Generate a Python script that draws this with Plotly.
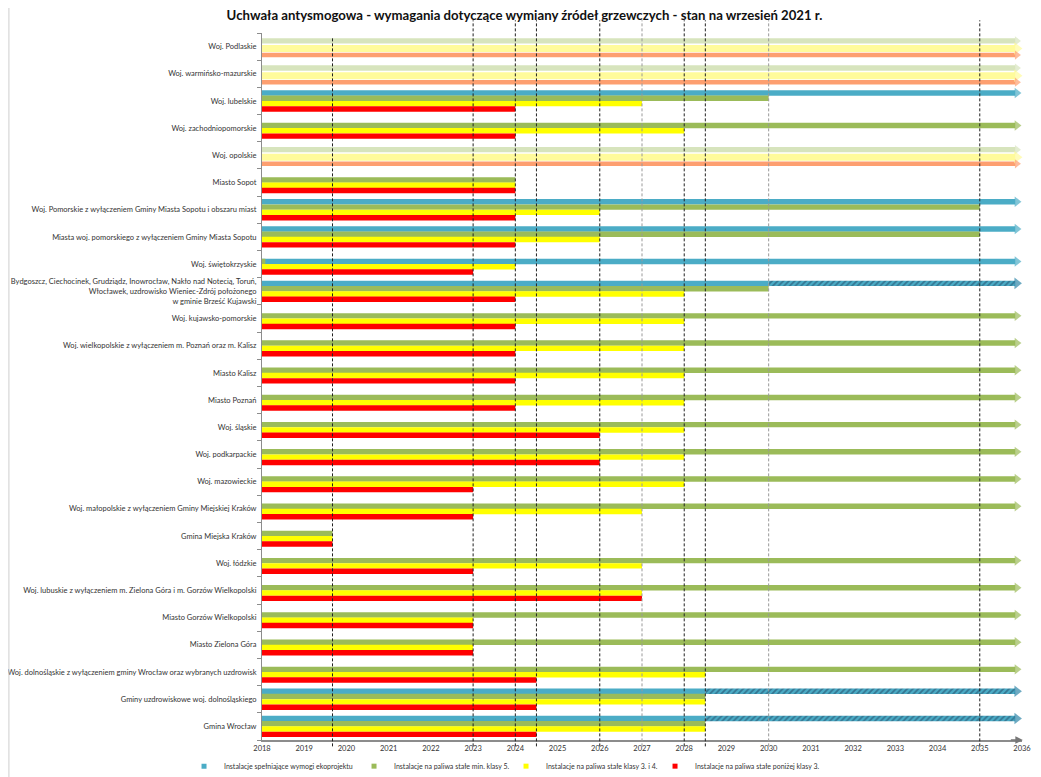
import plotly.graph_objects as go

# ---------------- data ----------------
labels = [
    "Woj. Podlaskie",
    "Woj. warmińsko-mazurskie",
    "Woj. lubelskie",
    "Woj. zachodniopomorskie",
    "Woj. opolskie",
    "Miasto Sopot",
    "Woj. Pomorskie z wyłączeniem Gminy Miasta Sopotu i obszaru miast",
    "Miasta woj. pomorskiego z wyłączeniem Gminy Miasta Sopotu",
    "Woj. świętokrzyskie",
    "Bydgoszcz, Ciechocinek, Grudziądz, Inowrocław, Nakło nad Notecią, Toruń,<br>Włocławek, uzdrowisko Wieniec-Zdrój położonego<br>w gminie Brześć Kujawski",
    "Woj. kujawsko-pomorskie",
    "Woj. wielkopolskie z wyłączeniem m. Poznań oraz m. Kalisz",
    "Miasto Kalisz",
    "Miasto Poznań",
    "Woj. śląskie",
    "Woj. podkarpackie",
    "Woj. mazowieckie",
    "Woj. małopolskie z wyłączeniem Gminy Miejskiej Kraków",
    "Gmina Miejska Kraków",
    "Woj. łódzkie",
    "Woj. lubuskie z wyłączeniem m. Zielona Góra i m. Gorzów Wielkopolski",
    "Miasto Gorzów Wielkopolski",
    "Miasto Zielona Góra",
    "Woj. dolnośląskie z wyłączeniem gminy Wrocław oraz wybranych uzdrowisk",
    "Gminy uzdrowiskowe woj. dolnośląskiego",
    "Gmina Wrocław",
]

N = None
# end year of each requirement bar (bars start in 2018); 2036 = "no end" (arrow)
blue_end   = [N, N, 2036, N, N, N, 2036, 2036, N, 2030, N, N, N, N, N, N, N, N, N, N, N, N, N, N, 2028.5, 2028.5]
blue_alt_end = [N, N, N, N, N, N, N, N, 2036, N, N, N, N, N, N, N, N, N, N, N, N, N, N, N, N, N]
green_end  = [N, N, 2030, 2036, N, 2024, 2035, 2035, 2018.08, 2030, 2036, 2036, 2036, 2036, 2036, 2036, 2036, 2036, 2019.67, 2036, 2036, 2036, 2036, 2036, 2028.5, 2028.5]
yellow_end = [N, N, 2027, 2028, N, 2024, 2026, 2026, 2024, 2028, 2028, 2028, 2028, 2028, 2028, 2028, 2028, 2027, 2019.67, 2027, 2027, 2023, 2023, 2028.5, 2028.5, 2028.5]
red_end    = [N, N, 2024, 2024, N, 2024, 2024, 2024, 2023, 2024, 2024, 2024, 2024, 2024, 2026, 2026, 2023, 2023, 2019.67, 2023, 2027, 2023, 2023, 2024.5, 2024.5, 2024.5]
hatch_start = [N, N, N, N, N, N, N, N, N, 2030, N, N, N, N, N, N, N, N, N, N, N, N, N, N, 2028.5, 2028.5]
hatch_end   = [N, N, N, N, N, N, N, N, N, 2036, N, N, N, N, N, N, N, N, N, N, N, N, N, N, 2036, 2036]
pale_end    = [2036, 2036, N, N, 2036, N, N, N, N, N, N, N, N, N, N, N, N, N, N, N, N, N, N, N, N, N]

deadline_years = [2019.67, 2023, 2024, 2024.5, 2026, 2027, 2028, 2028.5, 2030, 2035]
deadline_grey = [2027, 2030]
years = list(range(2018, 2037))

legend_names = [
    "Instalacje spełniające wymogi ekoprojektu",
    "Instalacje na paliwa stałe min. klasy 5.",
    "Instalacje na paliwa stałe klasy 3. i 4.",
    "Instalacje na paliwa stałe poniżej klasy 3.",
]

# ---------------- styling ----------------
YEAR0, AXIS_END = 2018, 2036
C_BLUE, C_GREEN, C_YELLOW, C_RED = "#4bacc6", "#9bbb59", "#ffff00", "#ff0000"
C_PGREEN, C_PYELLOW, C_PORANGE = "#d7e4bd", "#fffb9b", "#fd9f70"
FONT = "Lato"
SLOT = [-0.2925, -0.0975, 0.0975, 0.2925]
BAR_H = 0.2
HEAD_LEN = 0.16     # years covered by arrow head
HEAD_POS = 0.12
LEGEND_WIDTHS = [125, 107, 104, 135]

fig = go.Figure()
arrows = {"x": [], "y": [], "c": [], "s": []}


def add_bars(ends, offset, height, color, starts=None, pattern=None, head_color=None, head_size=9):
    xs, ys, bs = [], [], []
    for r, e in enumerate(ends):
        if e is None:
            continue
        s = YEAR0 if starts is None else starts[r]
        end = e - HEAD_LEN if e >= AXIS_END else e
        xs.append(end - s)
        bs.append(s)
        ys.append(r + offset)
        if e >= AXIS_END:
            arrows["x"].append(AXIS_END - HEAD_POS)
            arrows["y"].append(r + offset)
            arrows["c"].append(head_color or color)
            arrows["s"].append(head_size)
    marker = dict(color=color, line=dict(width=0))
    if pattern:
        marker["pattern"] = pattern
    fig.add_trace(go.Bar(x=xs, y=ys, base=bs, orientation="h", width=height,
                         marker=marker, showlegend=False, hoverinfo="skip"))


# pale (drawn shapes) rows
add_bars(pale_end, -0.21, 0.20, C_PGREEN, head_size=8)
add_bars(pale_end, 0.07, 0.26, C_PYELLOW, head_size=11)
add_bars(pale_end, 0.31, 0.17, C_PORANGE, head_size=8)

# main requirement bars
add_bars(blue_end, SLOT[0], BAR_H, C_BLUE)
add_bars(blue_alt_end, SLOT[1], BAR_H, C_BLUE)
add_bars(hatch_end, SLOT[0], BAR_H, C_BLUE, starts=hatch_start,
         pattern=dict(shape="/", fgcolor="#1d3d5c", bgcolor=C_BLUE, size=4, solidity=0.45),
         head_color="#2f86a8", head_size=10)
add_bars(green_end, SLOT[1], BAR_H, C_GREEN)
add_bars(yellow_end, SLOT[2], BAR_H, C_YELLOW)
add_bars(red_end, SLOT[3], BAR_H, C_RED)

# arrow heads
fig.add_trace(go.Scatter(x=arrows["x"], y=arrows["y"], mode="markers",
                         marker=dict(symbol="triangle-right", size=arrows["s"], color=arrows["c"],
                                     line=dict(width=0)),
                         cliponaxis=False, showlegend=False, hoverinfo="skip"))

# legend entries
for name, col, lw in zip(legend_names, [C_BLUE, C_GREEN, C_YELLOW, C_RED], LEGEND_WIDTHS):
    fig.add_trace(go.Scatter(x=[None], y=[None], mode="markers", name=name, legendwidth=lw,
                             marker=dict(symbol="square", size=5, color=col)))

# deadline lines
shapes = []
for yv in deadline_years:
    shapes.append(dict(type="line", xref="x", yref="paper", x0=yv, x1=yv,
                       y0=-0.009, y1=1.018 if yv > 2020 else 0.995,
                       line=dict(color="#999999" if yv in deadline_grey else "#222222",
                                 width=1, dash="3px,2px"), layer="above"))
# spreadsheet edge line at far left
shapes.append(dict(type="line", xref="paper", yref="paper", x0=-0.333, x1=-0.333,
                   y0=-0.06, y1=1.04, line=dict(color="#cfcfcf", width=1)))

# the page body adds an 8px offset, so the figure is 8px smaller than the window
fig.update_layout(
    width=1033, height=769,
    margin=dict(l=254, r=19, t=25, b=37, autoexpand=False),
    paper_bgcolor="white", plot_bgcolor="white",
    barmode="overlay",
    font=dict(family=FONT, size=8, color="#333333"),
    title=dict(text="<b>Uchwała antysmogowa - wymagania dotyczące wymiany źródeł grzewczych - stan na wrzesień 2021 r.</b>",
               x=0.5, xanchor="center", y=0.9902, yanchor="middle",
               font=dict(family=FONT, size=13.2, color="#111111")),
    xaxis=dict(range=[YEAR0, AXIS_END], tickvals=years, ticktext=[str(y) for y in years],
               showgrid=False, zeroline=False, showline=True, linecolor="#8c8c8c", linewidth=2,
               ticks="", tickfont=dict(size=7.5, color="#333333"), automargin=False),
    yaxis=dict(range=[len(labels) - 0.5, -0.5], tickvals=list(range(len(labels))), ticktext=labels,
               showgrid=False, zeroline=False, showline=True, linecolor="#8c8c8c", linewidth=1,
               ticks="", tickfont=dict(size=7.5, color="#333333"), automargin=False,
               ticklabelstandoff=3,
               minor=dict(tickmode="linear", tick0=-0.5, dtick=1, ticks="outside", ticklen=4,
                          tickcolor="#8c8c8c", showgrid=False)),
    shapes=shapes,
    legend=dict(orientation="h", x=-0.1026, xanchor="left", y=-0.037, yanchor="middle",
                font=dict(size=7, color="#333333"), itemwidth=30, bgcolor="rgba(0,0,0,0)"),
    annotations=[dict(x=AXIS_END + 0.02, y=len(labels) - 0.5, ax=AXIS_END - 0.3, ay=len(labels) - 0.5,
                      xref="x", yref="y", axref="x", ayref="y", showarrow=True, arrowhead=2,
                      arrowsize=1, arrowwidth=1.5, arrowcolor="#777777", text="")],
)

fig.write_html("out.html")
